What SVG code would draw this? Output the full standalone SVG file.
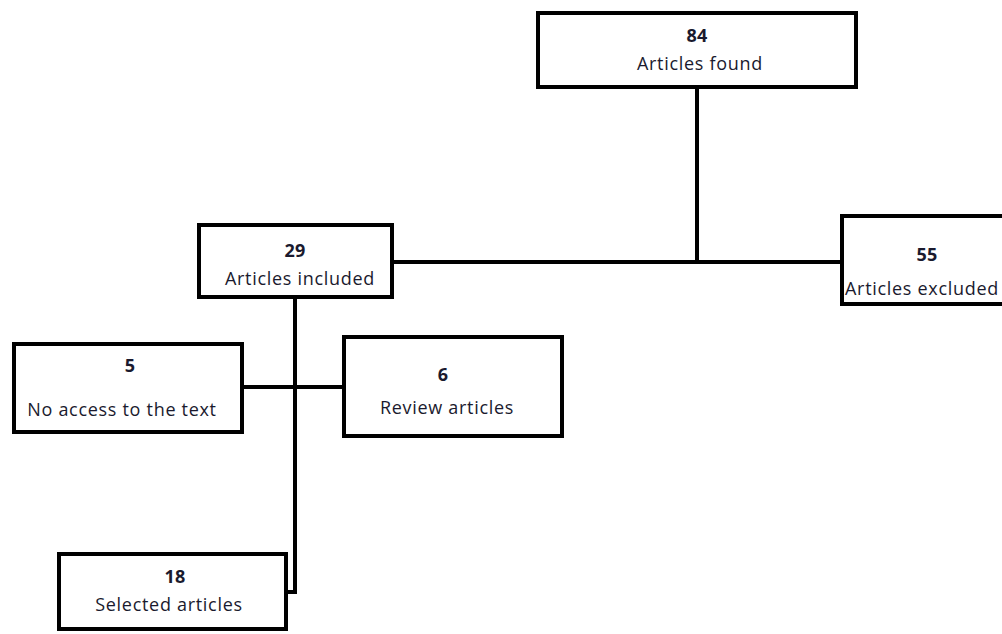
<svg xmlns="http://www.w3.org/2000/svg" width="1002" height="634" viewBox="0 0 1002 634">
<style>
.box{fill:#fff;stroke:#000;stroke-width:4}
.ln{fill:none;stroke:#000;stroke-width:4}
text{font-family:"Open Sans","Liberation Sans",sans-serif;font-size:18px;letter-spacing:0.7px;fill:#1a1a2e;text-anchor:middle}
.num{font-weight:bold;letter-spacing:0.3px}
</style>
<rect width="1002" height="634" fill="#fff"/>
<g id="connectors">
<path class="ln" d="M697,87 V262"/>
<path class="ln" d="M392,262 H842"/>
<path class="ln" d="M295,297 V592 H286"/>
<path class="ln" d="M242,387 H344"/>
</g>
<g id="n84"><rect class="box" x="538" y="13" width="318" height="74"/><text class="num" x="697" y="42">84</text><text x="700" y="70">Articles found</text></g>
<g id="n29"><rect class="box" x="199" y="225" width="193" height="72"/><text class="num" x="295" y="257">29</text><text x="300" y="285">Articles included</text></g>
<g id="n55"><rect class="box" x="842" y="216" width="170" height="88"/><text class="num" x="927" y="261">55</text><text x="845" y="295" style="text-anchor:start">Articles excluded</text></g>
<g id="n5"><rect class="box" x="14" y="344" width="228" height="88"/><text class="num" x="130" y="372">5</text><text x="122" y="416">No access to the text</text></g>
<g id="n6"><rect class="box" x="344" y="337" width="218" height="99"/><text class="num" x="443" y="381">6</text><text x="447" y="414">Review articles</text></g>
<g id="n18"><rect class="box" x="59" y="554" width="227" height="75"/><text class="num" x="175" y="583">18</text><text x="169" y="611">Selected articles</text></g>
</svg>
